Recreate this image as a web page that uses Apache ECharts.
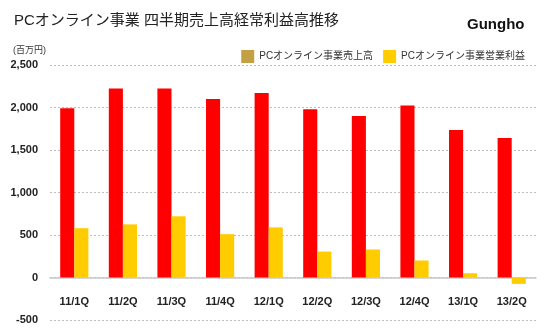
<!DOCTYPE html>
<html>
<head>
<meta charset="utf-8">
<script src="https://cdn.jsdelivr.net/npm/echarts@6/dist/echarts.min.js"></script>
<style>
  html, body { margin: 0; padding: 0; background: #fff; }
  #chart { width: 546px; height: 335px; }
</style>
</head>
<body>
<div id="chart"></div>
<script>
// Quarterly figures for the PC online business (millions of yen)
const quarters = ['11/1Q', '11/2Q', '11/3Q', '11/4Q', '12/1Q', '12/2Q', '12/3Q', '12/4Q', '13/1Q', '13/2Q'];
const salesName = 'PCオンライン事業売上高';
const profitName = 'PCオンライン事業営業利益';
const sales = [1990, 2225, 2225, 2100, 2170, 1980, 1900, 2025, 1735, 1640];
const profit = [580, 625, 720, 510, 590, 305, 330, 200, 50, -75];

const FONT = '"Liberation Sans", Arial, "Noto Sans CJK JP", sans-serif';

const chart = echarts.init(document.getElementById('chart'), null, { renderer: 'canvas' });
chart.setOption({
  animation: false,
  backgroundColor: '#ffffff',
  textStyle: { fontFamily: FONT },
  title: [
    {
      text: 'PCオンライン事業 四半期売上高経常利益高推移',
      left: 9, top: 8,
      textStyle: { fontFamily: FONT, fontSize: 15, fontWeight: 'normal', color: '#222' }
    },
    {
      text: 'Gungho',
      left: 462, top: 12,
      textStyle: { fontFamily: FONT, fontSize: 15, fontWeight: 'bold', color: '#111' }
    },
    {
      text: '(百万円)',
      left: 8, top: 41,
      textStyle: { fontFamily: FONT, fontSize: 9, fontWeight: 'normal', color: '#333' }
    }
  ],
  legend: {
    right: 16, top: 45,
    itemWidth: 13, itemHeight: 13, itemGap: 10,
    icon: 'rect',
    textStyle: { fontFamily: FONT, fontSize: 10, color: '#333' },
    data: [
      { name: salesName, itemStyle: { color: '#c4a044' } },
      { name: profitName, itemStyle: { color: '#ffcc00' } }
    ]
  },
  grid: { left: 50, right: 10, top: 65, bottom: 15, containLabel: false, outerBoundsMode: 'none' },
  xAxis: {
    type: 'category',
    data: quarters,
    // lift the category axis up to the zero value line
    offset: -42.5,
    axisLine: { onZero: false, lineStyle: { color: '#c8c8c8', width: 1.5 } },
    axisTick: { show: false },
    axisLabel: { margin: 19, fontFamily: FONT, fontSize: 11, fontWeight: 'bold', color: '#222' }
  },
  yAxis: {
    type: 'value',
    min: -500, max: 2500, interval: 500,
    axisLine: { show: false },
    axisTick: { show: false },
    axisLabel: {
      margin: 12, fontFamily: FONT, fontSize: 11, fontWeight: 'bold', color: '#222',
      formatter: v => v.toLocaleString('en-US')
    },
    splitLine: { lineStyle: { color: '#bdbdbd', type: [2, 2], width: 1 } }
  },
  series: [
    {
      name: salesName, type: 'bar', data: sales,
      barGap: '0%', barCategoryGap: '42%',
      itemStyle: { color: '#ff0000' }
    },
    {
      name: profitName, type: 'bar', data: profit,
      itemStyle: { color: '#ffcc00' }
    }
  ]
});
</script>
</body>
</html>
